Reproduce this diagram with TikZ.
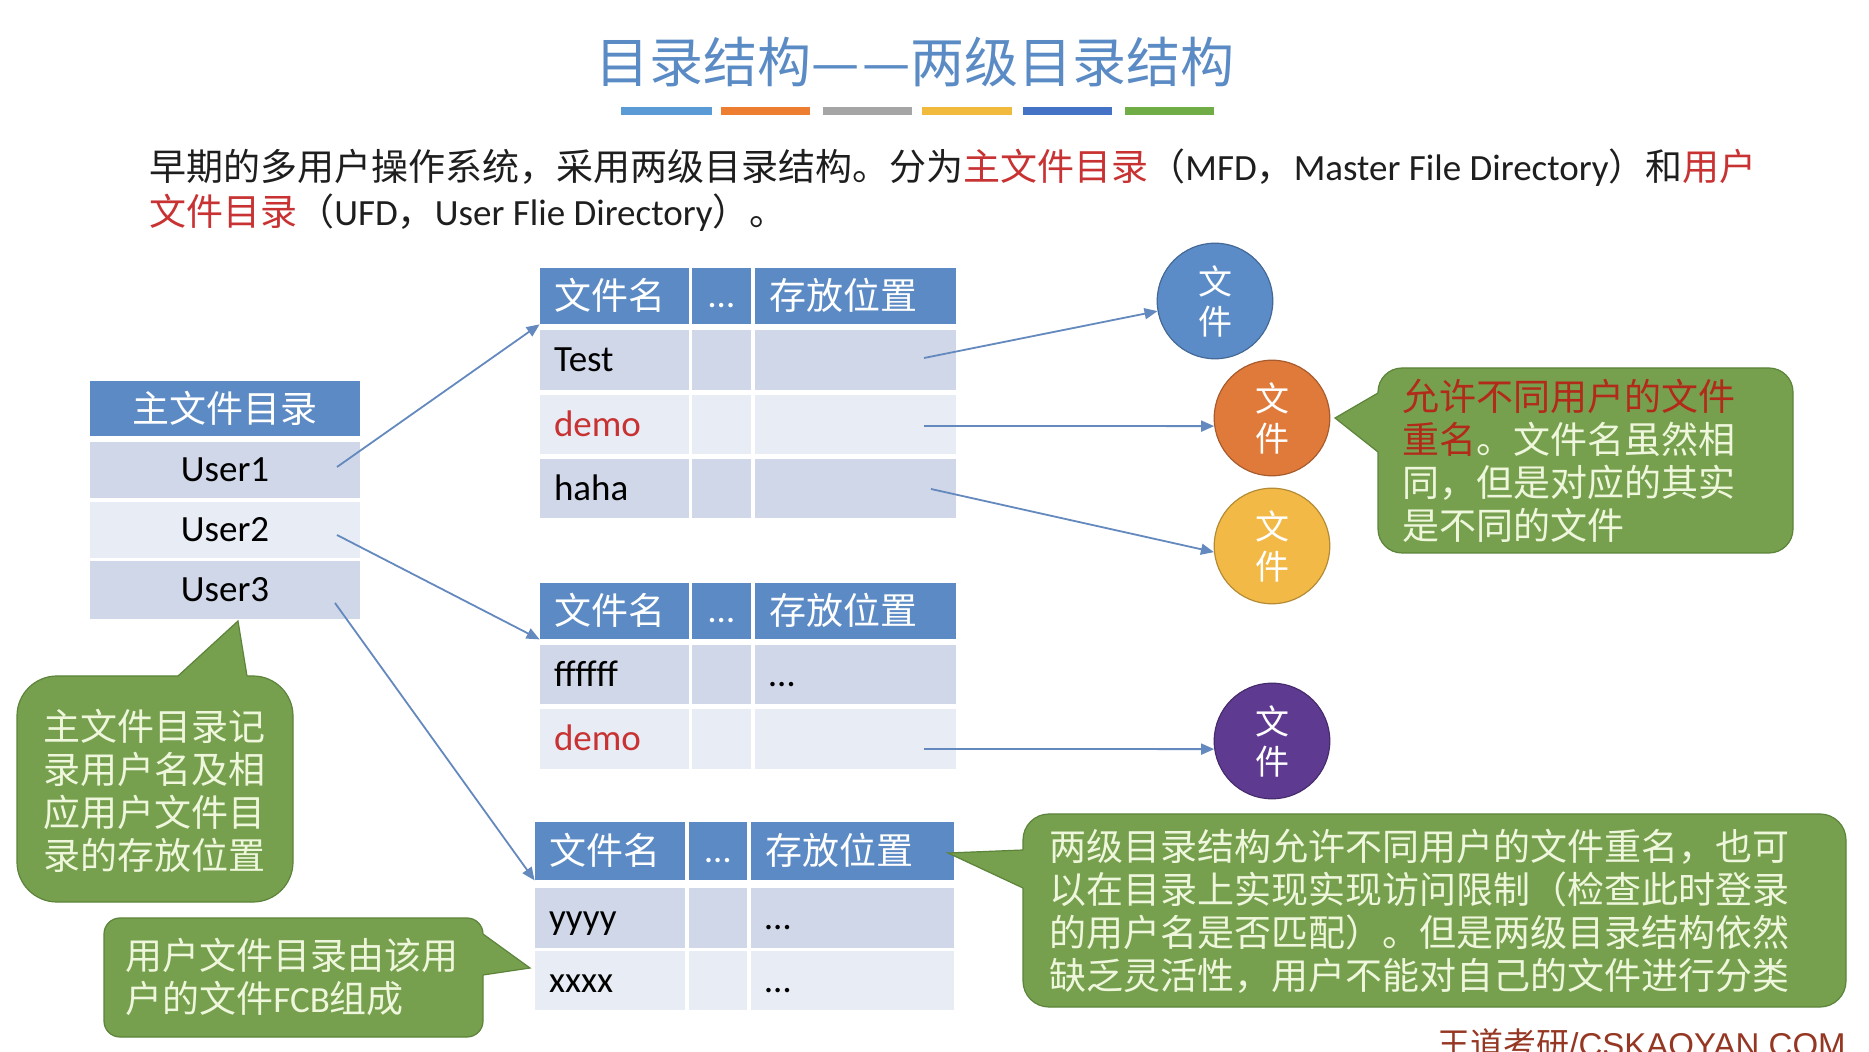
\documentclass[tikz,border=0pt]{standalone}
\usepackage{fontspec}
\setmainfont{Carlito}
\newfontfamily\latf{Carlito}
\newfontfamily\cjk{Noto Sans CJK SC}
\newfontfamily\arialf{Liberation Sans}
\usetikzlibrary{arrows.meta,fit}
\newcommand\lat[1]{{\latf #1}}
\newcommand\cellbox[6]{\node[fit={(#2,#3) (#4,#5)}, inner sep=0pt, fill=#6, draw=none] (#1) {};}
\definecolor{titleblue}{RGB}{91,139,197}
\definecolor{hdrblue}{RGB}{91,138,196}
\definecolor{rowdark}{RGB}{207,215,232}
\definecolor{rowlight}{RGB}{232,236,244}
\definecolor{txtred}{RGB}{200,50,50}
\definecolor{bodytext}{RGB}{30,30,30}
\definecolor{callgreen}{RGB}{118,160,78}
\definecolor{callborder}{RGB}{92,132,58}
\definecolor{calltext}{RGB}{238,246,220}
\definecolor{callred}{RGB}{178,42,26}
\definecolor{arrowc}{RGB}{100,137,190}
\definecolor{fblue}{RGB}{91,140,200}
\definecolor{forange}{RGB}{224,122,58}
\definecolor{fyellow}{RGB}{242,185,70}
\definecolor{fpurple}{RGB}{95,58,145}
\definecolor{footred}{RGB}{150,55,35}
\definecolor{barA}{RGB}{91,155,213}
\definecolor{barB}{RGB}{237,125,49}
\definecolor{barC}{RGB}{165,165,165}
\definecolor{barD}{RGB}{242,186,60}
\definecolor{barE}{RGB}{68,114,196}
\definecolor{barF}{RGB}{112,173,71}
\tikzset{
  cjkt/.style={font=\cjk\fontsize{18.5}{21.5}\selectfont, inner sep=0pt, text height=13.6pt, text depth=0pt},
  latt/.style={font=\latf\fontsize{18.5}{21.5}\selectfont, inner sep=0pt, text height=11.6pt, text depth=0pt},
  multit/.style={font=\cjk\fontsize{18.5}{21.5}\selectfont, inner sep=0pt, align=left, text=calltext},
  arr/.style={draw=arrowc, line width=0.9pt, -{Triangle[length=6.5pt,width=5.5pt]}},
  callfill/.style={fill=callgreen, draw=none},
  callline/.style={draw=callborder, line width=0.6pt},
  filec/.style={circle, minimum size=57.8pt, inner sep=0pt, align=center, text=white,
    font=\cjk\fontsize{17}{20}\selectfont, line width=0.6pt}
}
\begin{document}
\begin{tikzpicture}[x=0.5pt,y=-0.5pt]
\useasboundingbox (0,0) rectangle (1869,1052);
\fill[white] (0,0) rectangle (1869,1052);

% title
\node[font=\cjk\fontsize{27}{31}\selectfont, text=titleblue, inner sep=0pt] (title) at (915,62) {目录结构—\hspace{1.5pt}—两级目录结构};
\fill[barA] (621,107) rectangle (712,115);
\fill[barB] (721,107) rectangle (810,115);
\fill[barC] (823,107) rectangle (912,115);
\fill[barD] (922,107) rectangle (1012,115);
\fill[barE] (1023,107) rectangle (1112,115);
\fill[barF] (1125,107) rectangle (1214,115);

% paragraph
\node[cjkt, anchor=west, text=bodytext] (p1) at (149,167) {早期的多用户操作系统，采用两级目录结构。分为\textcolor{txtred}{主文件目录}（\lat{MFD}，\lat{Master File Directory}）和\textcolor{txtred}{用户}};
\node[cjkt, anchor=west, text=bodytext] (p2) at (149,212) {\textcolor{txtred}{文件目录}（\lat{UFD}，\lat{User Flie Directory}）。};

% master file directory
\cellbox{mh}{90}{381}{360}{436}{hdrblue}
\node[cjkt, text=white] (mht) at (mh) {主文件目录};
\cellbox{mu1}{90}{442}{360}{498}{rowdark}
\node[latt] (mu1t) at (mu1) {User1};
\cellbox{mu2}{90}{502}{360}{558}{rowlight}
\node[latt] (mu2t) at (mu2) {User2};
\cellbox{mu3}{90}{561}{360}{619}{rowdark}
\node[latt] (mu3t) at (mu3) {User3};

% UFD table 1
\cellbox{ah1}{540}{268}{689}{324}{hdrblue}
\cellbox{ah2}{692}{268}{751}{324}{hdrblue}
\cellbox{ah3}{755}{268}{956}{324}{hdrblue}
\node[cjkt, anchor=west, text=white] (ah1t) at ([xshift=7pt]ah1.west) {文件名};
\node[latt, text=white] (ah2t) at (ah2) {…};
\node[cjkt, anchor=west, text=white] (ah3t) at ([xshift=7pt]ah3.west) {存放位置};
\cellbox{a11}{540}{330}{689}{390}{rowdark}
\cellbox{a12}{692}{330}{751}{390}{rowdark}
\cellbox{a13}{755}{330}{956}{390}{rowdark}
\cellbox{a21}{540}{395}{689}{454}{rowlight}
\cellbox{a22}{692}{395}{751}{454}{rowlight}
\cellbox{a23}{755}{395}{956}{454}{rowlight}
\cellbox{a31}{540}{459}{689}{518}{rowdark}
\cellbox{a32}{692}{459}{751}{518}{rowdark}
\cellbox{a33}{755}{459}{956}{518}{rowdark}
\node[latt, anchor=west] (a11t) at ([xshift=7pt]a11.west) {Test};
\node[latt, anchor=west, text=txtred] (a21t) at ([xshift=7pt]a21.west) {demo};
\node[latt, anchor=west] (a31t) at ([xshift=7pt]a31.west) {haha};

% UFD table 2
\cellbox{bh1}{540}{583}{689}{639}{hdrblue}
\cellbox{bh2}{692}{583}{751}{639}{hdrblue}
\cellbox{bh3}{755}{583}{956}{639}{hdrblue}
\node[cjkt, anchor=west, text=white] (bh1t) at ([xshift=7pt]bh1.west) {文件名};
\node[latt, text=white] (bh2t) at (bh2) {…};
\node[cjkt, anchor=west, text=white] (bh3t) at ([xshift=7pt]bh3.west) {存放位置};
\cellbox{b11}{540}{645}{689}{704}{rowdark}
\cellbox{b12}{692}{645}{751}{704}{rowdark}
\cellbox{b13}{755}{645}{956}{704}{rowdark}
\cellbox{b21}{540}{709}{689}{769}{rowlight}
\cellbox{b22}{692}{709}{751}{769}{rowlight}
\cellbox{b23}{755}{709}{956}{769}{rowlight}
\node[latt, anchor=west] (b11t) at ([xshift=7pt]b11.west) {ffffff};
\node[latt, anchor=west] (b13t) at ([xshift=7pt]b13.west) {…};
\node[latt, anchor=west, text=txtred] (b21t) at ([xshift=7pt]b21.west) {demo};

% UFD table 3
\cellbox{ch1}{535}{822}{685}{880}{hdrblue}
\cellbox{ch2}{689}{822}{747}{880}{hdrblue}
\cellbox{ch3}{751}{822}{954}{880}{hdrblue}
\node[cjkt, anchor=west, text=white] (ch1t) at ([xshift=7pt]ch1.west) {文件名};
\node[latt, text=white] (ch2t) at (ch2) {…};
\node[cjkt, anchor=west, text=white] (ch3t) at ([xshift=7pt]ch3.west) {存放位置};
\cellbox{c11}{535}{888}{685}{948}{rowdark}
\cellbox{c12}{689}{888}{747}{948}{rowdark}
\cellbox{c13}{751}{888}{954}{948}{rowdark}
\cellbox{c21}{535}{951}{685}{1010}{rowlight}
\cellbox{c22}{689}{951}{747}{1010}{rowlight}
\cellbox{c23}{751}{951}{954}{1010}{rowlight}
\node[latt, anchor=west] (c11t) at ([xshift=7pt]c11.west) {yyyy};
\node[latt, anchor=west] (c13t) at ([xshift=7pt]c13.west) {…};
\node[latt, anchor=west] (c21t) at ([xshift=7pt]c21.west) {xxxx};
\node[latt, anchor=west] (c23t) at ([xshift=7pt]c23.west) {…};

% file circles
\node[filec, fill=fblue, draw=fblue!75!black] (fb) at (1215,301) {文\\件};
\node[filec, fill=forange, draw=forange!75!black] (fo) at (1272,418) {文\\件};
\node[filec, fill=fyellow, draw=fyellow!75!black] (fy) at (1272,546) {文\\件};
\node[filec, fill=fpurple, draw=fpurple!75!black] (fp) at (1272,741) {文\\件};

% arrows
\coordinate (s1) at (337,467);
\coordinate (s2) at (337,535);
\coordinate (s3) at (335,603);
\coordinate (s4) at (924,358);
\coordinate (s5) at (924,426);
\coordinate (s6) at (931,489);
\coordinate (s7) at (924,749);
\draw[arr] (s1) -- (ah1.south west);
\draw[arr] (s2) -- (bh1.south west);
\draw[arr] (s3) -- (ch1.south west);
\draw[arr] (s4) -- (fb.190);
\draw[arr] (s5) -- (fo.188);
\draw[arr] (s6) -- (fy.186);
\draw[arr] (s7) -- (fp.188);

% callout 1 (right top)
\path[callfill, callline, rounded corners=12pt] (1378,368) rectangle (1793,553);
\fill[callgreen] (1378,393) -- (1335,418) -- (1378,452) -- (1385,452) -- (1385,393) -- cycle;
\draw[callline] (1378,393) -- (1335,418) -- (1378,452);
\node[multit, anchor=west] (c1t) at (1402,461) {\textcolor{callred}{允许不同用户的文件}\\\textcolor{callred}{重名}。文件名虽然相\\同，但是对应的其实\\是不同的文件};

% callout 2 (left)
\path[callfill, callline, rounded corners=20pt] (17,676) rectangle (293,902);
\fill[callgreen] (178,676) -- (238,621) -- (247,676) -- (247,683) -- (178,683) -- cycle;
\draw[callline] (178,676) -- (238,621) -- (247,676);
\node[multit, anchor=west] (c2t) at (43,791) {主文件目录记\\录用户名及相\\应用户文件目\\录的存放位置};

% callout 3 (bottom left)
\path[callfill, callline, rounded corners=8pt] (104,918) rectangle (483,1037);
\fill[callgreen] (483,934) -- (530,968) -- (483,975) -- (476,975) -- (476,934) -- cycle;
\draw[callline] (483,934) -- (530,968) -- (483,975);
\node[multit, anchor=west] (c3t) at (125,977) {用户文件目录由该用\\户的文件\lat{FCB}组成};

% callout 4 (bottom right)
\path[callfill, callline, rounded corners=13pt] (1023,814) rectangle (1846,1007);
\fill[callgreen] (1023,850) -- (948,853) -- (1023,888) -- (1030,888) -- (1030,850) -- cycle;
\draw[callline] (1023,850) -- (948,853) -- (1023,888);
\node[multit, anchor=west] (c4t) at (1049,911) {两级目录结构允许不同用户的文件重名，也可\\以在目录上实现实现访问限制（检查此时登录\\的用户名是否匹配）。但是两级目录结构依然\\缺乏灵活性，用户不能对自己的文件进行分类};

% footer
\node[anchor=base west, inner sep=0pt, font=\arialf\fontsize{16.5}{20}\selectfont, text=footred] (foot) at (1437,1056) {{\cjk 王道考研}/CSKAOYAN.COM};
\end{tikzpicture}
\end{document}
